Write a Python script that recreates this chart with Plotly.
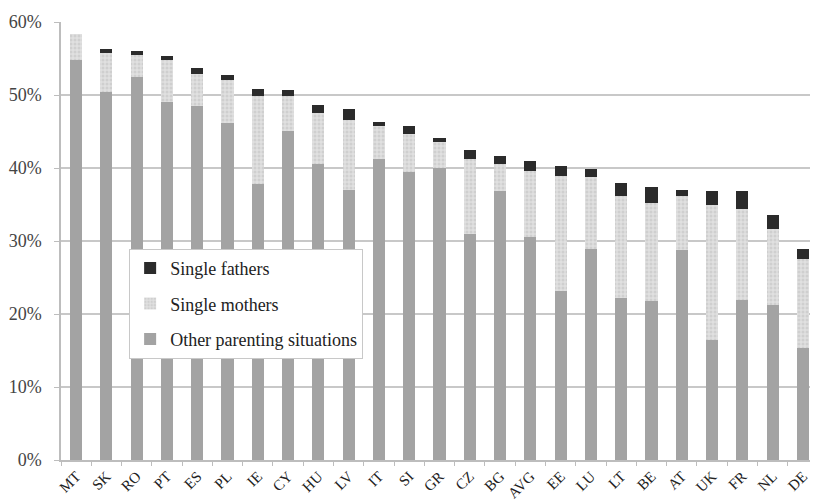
import plotly.graph_objects as go

countries = ["MT", "SK", "RO", "PT", "ES", "PL", "IE", "CY", "HU", "LV", "IT", "SI", "GR",
             "CZ", "BG", "AVG", "EE", "LU", "LT", "BE", "AT", "UK", "FR", "NL", "DE"]
other = [54.8, 50.4, 52.4, 49.1, 48.5, 46.2, 37.8, 45.1, 40.5, 37.0, 41.2, 39.5, 40.0,
         31.0, 36.9, 30.6, 23.1, 28.9, 22.2, 21.8, 28.8, 16.5, 21.9, 21.3, 15.4]
mothers = [3.6, 5.4, 3.1, 5.7, 4.4, 5.9, 12.1, 4.8, 7.1, 9.6, 4.5, 5.2, 3.6,
           10.2, 3.6, 9.0, 15.8, 9.8, 13.9, 13.4, 7.3, 18.5, 12.5, 10.4, 12.2]
fathers = [0.0, 0.5, 0.5, 0.5, 0.8, 0.6, 0.9, 0.8, 1.0, 1.5, 0.6, 1.0, 0.5,
           1.2, 1.2, 1.3, 1.4, 1.2, 1.9, 2.2, 0.9, 1.9, 2.4, 1.9, 1.3]
y_ticks = [0, 10, 20, 30, 40, 50, 60]
y_tick_labels = ["0%", "10%", "20%", "30%", "40%", "50%", "60%"]

FONT = "Liberation Serif"

fig = go.Figure()
fig.add_trace(go.Bar(x=countries, y=other, name="Other parenting situations",
                     legendgroup="o", legendrank=3,
                     marker=dict(color="#a3a3a3", line=dict(width=0))))
fig.add_trace(go.Bar(x=countries, y=mothers, name="Single mothers",
                     legendgroup="m", legendrank=2,
                     marker=dict(color="#d9d9d9", line=dict(width=0),
                                 pattern=dict(shape=".", fgcolor="#bdbdbd",
                                              bgcolor="#e0e0e0", size=4, solidity=0.45))))
fig.add_trace(go.Bar(x=countries, y=fathers, name="Single fathers",
                     legendgroup="f", legendrank=1,
                     marker=dict(color="#2b2b2b", line=dict(width=0))))

# the page body keeps an 8px margin, so the figure is 8px smaller each way
fig.update_layout(
    barmode="stack",
    bargap=0.6,
    width=810, height=495,
    margin=dict(l=53, r=0, t=14, b=43),
    paper_bgcolor="white",
    plot_bgcolor="white",
    font=dict(family=FONT, size=14, color="#444444"),
    showlegend=True,
    legend=dict(
        x=0.09, y=0.482, xanchor="left", yanchor="top",
        bgcolor="white", bordercolor="#c8c8c8", borderwidth=1,
        traceorder="grouped", tracegroupgap=9,
        font=dict(family=FONT, size=18, color="#222222"),
        itemwidth=30,
    ),
    yaxis=dict(
        range=[0, 60], tickmode="array", tickvals=y_ticks, ticktext=y_tick_labels,
        showgrid=True, gridcolor="#c8c8c8", gridwidth=1.8,
        showline=True, linecolor="#bdbdbd", linewidth=1.5,
        ticks="outside", ticklen=5, tickcolor="#bdbdbd",
        zeroline=False, ticklabelstandoff=9,
        tickfont=dict(family=FONT, size=18, color="#444444"),
    ),
    xaxis=dict(
        tickangle=-45,
        showline=True, linecolor="#bdbdbd", linewidth=1.5,
        ticks="outside", ticklen=4, tickcolor="#bdbdbd",
        tickson="boundaries",
        showgrid=False,
        tickfont=dict(family=FONT, size=15, color="#222222"),
    ),
)

fig.write_html("out.html")
